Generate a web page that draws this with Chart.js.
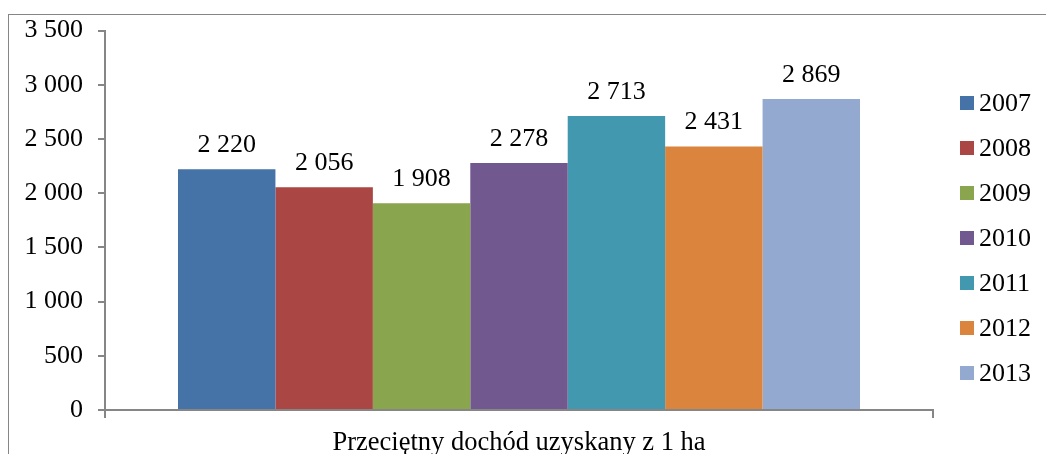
<!DOCTYPE html>
<html>
<head>
<meta charset="utf-8">
<script src="https://cdn.jsdelivr.net/npm/chart.js@4.4.1/dist/chart.umd.min.js"></script>
<style>
  html, body { margin: 0; padding: 0; background: #fff; }
  #wrap { width: 1046px; height: 454px; position: relative; }
</style>
</head>
<body>
<div id="wrap"><canvas id="chart" width="1046" height="454"></canvas></div>
<script>
// Chart data
const categories = ['Przeciętny dochód uzyskany z 1 ha'];
const years = ['2007', '2008', '2009', '2010', '2011', '2012', '2013'];
const values = [2220, 2056, 1908, 2278, 2713, 2431, 2869];
const colors = ['#4572A7', '#AA4643', '#89A54E', '#71588F', '#4198AF', '#DB843D', '#93A9CF'];
const yTicks = [0, 500, 1000, 1500, 2000, 2500, 3000, 3500];

const FONT = '"Liberation Serif", "Times New Roman", serif';
const AXIS_GRAY = '#868686';

// 2220 -> "2 220"
function fmt(v) {
    return String(v).replace(/\B(?=(\d{3})+(?!\d))/g, ' ');
}

// Outer frame of the chart object
const framePlugin = {
    id: 'frame',
    beforeDraw(chart) {
        const ctx = chart.ctx;
        ctx.save();
        ctx.strokeStyle = AXIS_GRAY;
        ctx.lineWidth = 1;
        ctx.strokeRect(8.5, 14.5, 1200, 600);
        ctx.restore();
    }
};

// Value labels above each bar
const valueLabels = {
    id: 'valueLabels',
    afterDatasetsDraw(chart) {
        const ctx = chart.ctx;
        ctx.save();
        ctx.font = '26px ' + FONT;
        ctx.fillStyle = '#000';
        ctx.textAlign = 'center';
        ctx.textBaseline = 'alphabetic';
        chart.data.datasets.forEach((ds, i) => {
            chart.getDatasetMeta(i).data.forEach((bar, j) => {
                ctx.fillText(fmt(ds.data[j]), bar.x, bar.y - 17);
            });
        });
        ctx.restore();
    }
};

// Legend on the right, Excel-like spacing
const sideLegend = {
    id: 'sideLegend',
    afterDraw(chart) {
        const ctx = chart.ctx;
        ctx.save();
        ctx.font = '26px ' + FONT;
        ctx.textBaseline = 'middle';
        ctx.textAlign = 'left';
        chart.data.datasets.forEach((ds, i) => {
            const cy = 103 + i * 45;
            ctx.fillStyle = ds.backgroundColor;
            ctx.fillRect(960, cy - 7, 14, 14);
            ctx.fillStyle = '#000';
            ctx.fillText(ds.label, 979, cy + 1);
        });
        ctx.restore();
    }
};

const datasets = years.map((y, i) => ({
    label: y,
    data: [values[i]],
    backgroundColor: colors[i],
    borderWidth: 0,
    categoryPercentage: 682 / 828,
    barPercentage: 1
}));

new Chart(document.getElementById('chart'), {
    type: 'bar',
    data: { labels: categories, datasets },
    plugins: [framePlugin, valueLabels, sideLegend],
    options: {
        responsive: false,
        animation: false,
        layout: { padding: { left: 23, right: 113, top: 30, bottom: 0 } },
        plugins: {
            legend: { display: false },
            tooltip: { enabled: false }
        },
        scales: {
            x: {
                grid: { drawOnChartArea: false, drawTicks: true, tickLength: 8, color: AXIS_GRAY, lineWidth: 2 },
                border: { color: AXIS_GRAY, width: 2 },
                ticks: { color: '#000', font: { family: FONT, size: 26.5 }, padding: 9 },
                afterFit(scale) { scale.height = 44; }
            },
            y: {
                min: 0,
                max: 3500,
                afterBuildTicks(scale) { scale.ticks = yTicks.map(v => ({ value: v })); },
                grid: { drawOnChartArea: false, drawTicks: true, tickLength: 7, color: AXIS_GRAY, lineWidth: 2 },
                border: { color: AXIS_GRAY, width: 2 },
                ticks: {
                    color: '#000',
                    font: { family: FONT, size: 26 },
                    padding: 15,
                    callback: v => fmt(v)
                },
                afterFit(scale) { scale.width = 82; }
            }
        }
    }
});
</script>
</body>
</html>
